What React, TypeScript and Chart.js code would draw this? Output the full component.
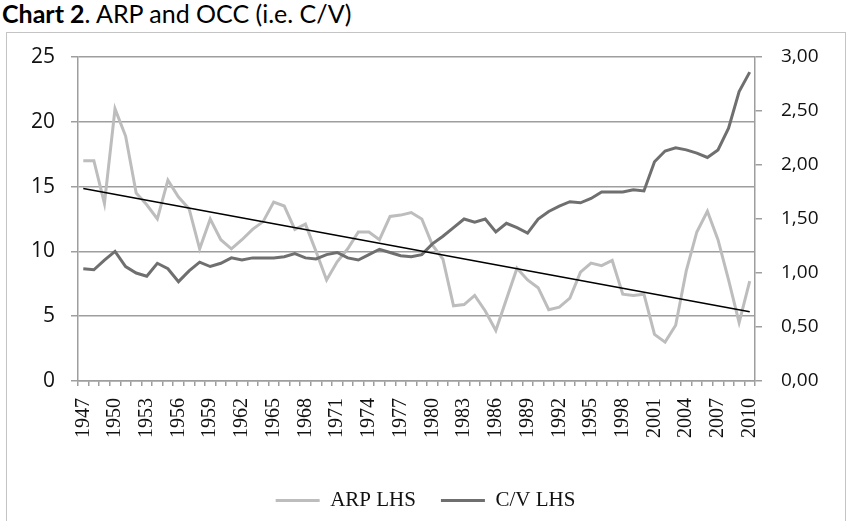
import React, { useEffect, useRef } from 'react';
import { Chart, registerables } from 'chart.js';

Chart.register(...registerables);

const years = [
  '1947', '1948', '1949', '1950', '1951', '1952', '1953', '1954', '1955', '1956',
  '1957', '1958', '1959', '1960', '1961', '1962', '1963', '1964', '1965', '1966',
  '1967', '1968', '1969', '1970', '1971', '1972', '1973', '1974', '1975', '1976',
  '1977', '1978', '1979', '1980', '1981', '1982', '1983', '1984', '1985', '1986',
  '1987', '1988', '1989', '1990', '1991', '1992', '1993', '1994', '1995', '1996',
  '1997', '1998', '1999', '2000', '2001', '2002', '2003', '2004', '2005', '2006',
  '2007', '2008', '2009', '2010',
];

const arpValues = [
  17.0, 17.0, 13.7, 21.0, 18.9, 14.5, 13.6, 12.5, 15.5, 14.2,
  13.3, 10.2, 12.5, 10.9, 10.2, 10.9, 11.7, 12.3, 13.8, 13.5,
  11.7, 12.1, 10.0, 7.8, 9.2, 10.2, 11.5, 11.5, 10.9, 12.7,
  12.8, 13.0, 12.5, 10.5, 9.4, 5.8, 5.9, 6.6, 5.4, 3.9,
  6.3, 8.7, 7.8, 7.2, 5.5, 5.7, 6.4, 8.4, 9.1, 8.9,
  9.3, 6.7, 6.6, 6.7, 3.6, 3.0, 4.3, 8.5, 11.5, 13.1,
  10.9, 7.8, 4.5, 7.7,
];

const cvValues = [
  1.04, 1.03, 1.12, 1.20, 1.06, 1.00, 0.97, 1.09, 1.04, 0.92,
  1.02, 1.10, 1.06, 1.09, 1.14, 1.12, 1.14, 1.14, 1.14, 1.15,
  1.18, 1.14, 1.13, 1.17, 1.19, 1.14, 1.12, 1.17, 1.22, 1.19,
  1.16, 1.15, 1.17, 1.27, 1.34, 1.42, 1.50, 1.47, 1.50, 1.38,
  1.46, 1.42, 1.37, 1.50, 1.57, 1.62, 1.66, 1.65, 1.69, 1.75,
  1.75, 1.75, 1.77, 1.76, 2.03, 2.13, 2.16, 2.14, 2.11, 2.07,
  2.14, 2.34, 2.68, 2.86,
];

// ARP linear trend line, first and last year values
const trendEnds = [14.85, 5.35];

const legendLabels = ['ARP LHS', 'C/V LHS'];

const ARP_COLOR = '#bdbdbd';
const CV_COLOR = '#6f6f6f';
const GRID_COLOR = '#9e9e9e';

export default function App() {
  const canvasRef = useRef<HTMLCanvasElement | null>(null);

  useEffect(() => {
    const trendData = years.map((_, i) =>
      i === 0 ? trendEnds[0] : i === years.length - 1 ? trendEnds[1] : null
    );
    const chart = new Chart(canvasRef.current as HTMLCanvasElement, {
      type: 'line',
      data: {
        labels: years,
        datasets: [
          {
            label: legendLabels[0],
            data: arpValues,
            yAxisID: 'y',
            borderColor: ARP_COLOR,
            backgroundColor: ARP_COLOR,
            borderWidth: 3,
            pointRadius: 0,
            tension: 0,
            order: 2,
          },
          {
            label: legendLabels[1],
            data: cvValues,
            yAxisID: 'y1',
            borderColor: CV_COLOR,
            backgroundColor: CV_COLOR,
            borderWidth: 3,
            pointRadius: 0,
            tension: 0,
            order: 1,
          },
          {
            label: 'trend',
            data: trendData as any,
            yAxisID: 'y',
            borderColor: '#000000',
            borderWidth: 1.5,
            pointRadius: 0,
            spanGaps: true,
            order: 0,
          },
        ],
      },
      options: {
        responsive: false,
        animation: false,
        layout: { padding: { top: 57, left: 0, right: 0, bottom: 0 } },
        plugins: {
          tooltip: { enabled: false },
          legend: {
            position: 'bottom',
            labels: {
              boxWidth: 44,
              boxHeight: 3,
              padding: 25,
              color: '#111111',
              font: { family: 'Liberation Serif', size: 21 },
              generateLabels: (c: any) =>
                c.data.datasets.slice(0, 2).map((ds: any, i: number) => ({
                  text: ds.label,
                  fillStyle: ds.borderColor,
                  strokeStyle: ds.borderColor,
                  lineWidth: 0,
                  hidden: false,
                  datasetIndex: i,
                  fontColor: '#111111',
                })),
            },
          },
        },
        scales: {
          x: {
            type: 'category',
            offset: true,
            afterFit: (s: any) => {
              s.height = 84;
            },
            grid: {
              offset: true,
              drawOnChartArea: false,
              drawTicks: true,
              tickLength: 5,
              color: GRID_COLOR,
              lineWidth: 1.5,
            },
            border: { display: true, color: GRID_COLOR, width: 1.5 },
            ticks: {
              autoSkip: false,
              maxRotation: 90,
              minRotation: 90,
              padding: 12,
              color: '#111111',
              font: { family: 'Liberation Serif', size: 20 },
              callback: (_v: any, i: number) => (i % 3 === 0 ? years[i] : ''),
            },
          },
          y: {
            position: 'left',
            min: 0,
            max: 25,
            afterFit: (s: any) => {
              s.width = 78;
            },
            grid: {
              color: GRID_COLOR,
              lineWidth: 1.5,
              tickLength: 7,
            },
            border: { display: true, color: GRID_COLOR, width: 1.5 },
            ticks: {
              stepSize: 5,
              padding: 16,
              color: '#111111',
              font: { family: 'Open Sans', size: 21 },
            },
          },
          y1: {
            position: 'right',
            min: 0,
            max: 3,
            afterFit: (s: any) => {
              s.width = 96;
            },
            grid: {
              drawOnChartArea: false,
              color: GRID_COLOR,
              lineWidth: 1.5,
              tickLength: 7,
            },
            border: { display: true, color: GRID_COLOR, width: 1.5 },
            ticks: {
              stepSize: 0.5,
              padding: 19,
              color: '#111111',
              font: { family: 'Open Sans', size: 19 },
              callback: (v: any) => Number(v).toFixed(2).replace('.', ','),
            },
          },
        },
      },
    });
    return () => chart.destroy();
  }, []);

  return (
    <div
      style={{
        position: 'fixed',
        left: 0,
        top: 0,
        width: 851,
        height: 521,
        background: '#ffffff',
        overflow: 'hidden',
      }}
    >
      <div
        style={{
          position: 'absolute',
          left: 2,
          top: 1,
          fontFamily: 'Lato, "Open Sans", sans-serif',
          fontSize: 25,
          lineHeight: '25px',
          color: '#000000',
          whiteSpace: 'nowrap',
        }}
      >
        <b>Chart 2</b>. ARP and OCC (i.e. C/V)
      </div>
      <div
        style={{
          position: 'absolute',
          left: 6,
          top: 32,
          width: 838,
          height: 520,
          border: '1px solid #c4c4c4',
          background: '#ffffff',
        }}
      />
      <canvas
        ref={canvasRef}
        width={851}
        height={521}
        style={{ position: 'absolute', left: 0, top: 0, width: 851, height: 521 }}
      />
    </div>
  );
}
